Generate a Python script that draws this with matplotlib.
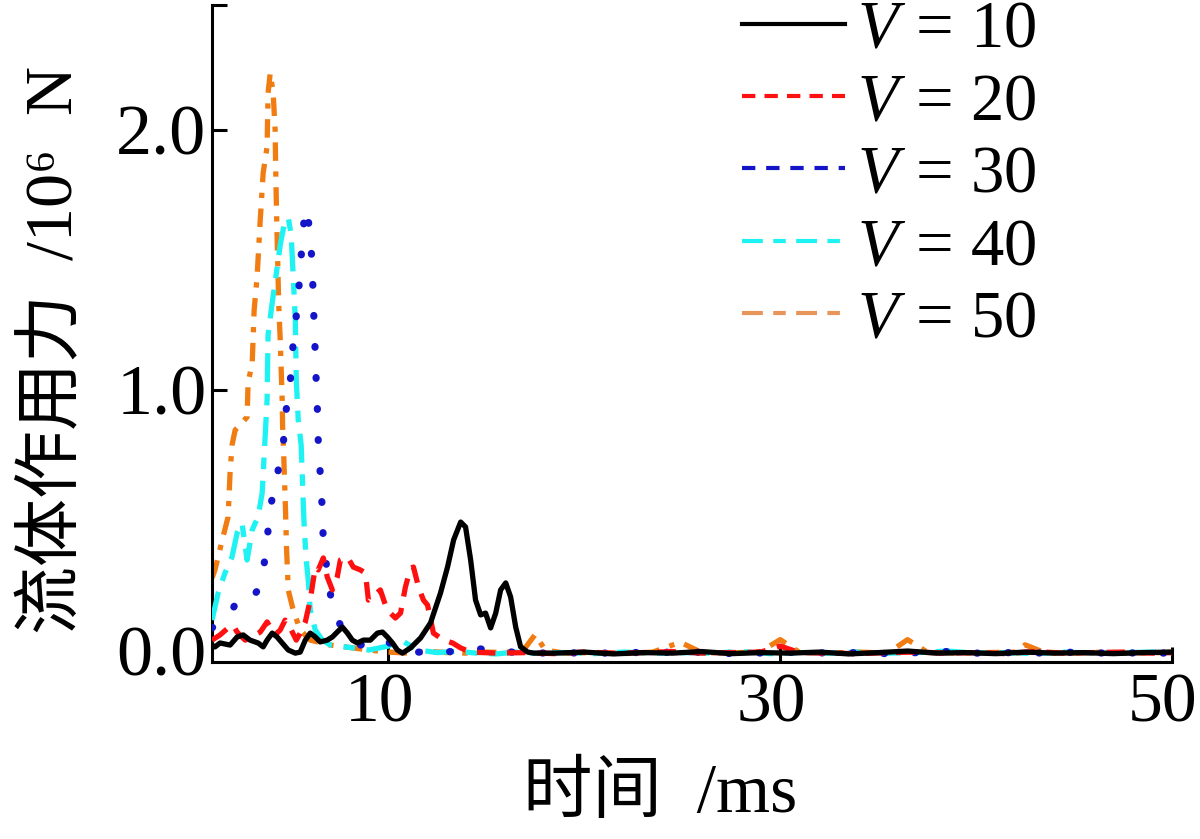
import numpy as np
import matplotlib
matplotlib.use("Agg")
import matplotlib.pyplot as plt
import matplotlib.transforms as mtransforms
from matplotlib.lines import Line2D

plt.rcParams['mathtext.fontset'] = 'custom'
plt.rcParams['mathtext.rm'] = 'Liberation Serif'
plt.rcParams['mathtext.it'] = 'Liberation Serif:italic'
plt.rcParams['font.family'] = ['Liberation Serif', 'Noto Sans CJK SC', 'DejaVu Sans']

# ---------------- data (time in ms, force in 10^6 N) ----------------
labels = [r'$V\,=\,10$', r'$V\,=\,20$', r'$V\,=\,30$', r'$V\,=\,40$', r'$V\,=\,50$']

t_v10 = [1.00, 1.15, 1.41, 1.92, 2.28, 2.59, 2.94, 3.35, 3.61, 3.81, 4.07, 4.32, 4.58, 4.89, 5.25,
         5.50, 5.76, 6.01, 6.27, 6.52, 6.88, 7.14, 7.39, 7.65, 7.91, 8.16, 8.42, 8.72, 9.08, 9.44,
         9.70, 9.95, 10.21, 10.46, 10.72, 11.13, 11.64, 12.15, 12.66, 13.02, 13.33, 13.69, 13.94,
         14.20, 14.45, 14.71, 14.96, 15.22, 15.48, 15.73, 15.99, 16.24, 16.50, 16.75, 17.11, 17.42,
         18.5, 20, 21.5, 23, 24.5, 26, 27.5, 29, 30.5, 32, 33.5, 35, 36.5, 38, 39.5, 41, 42.5, 44,
         45.5, 47, 48.5, 50]
f_v10 = [0.019, 0.012, 0.027, 0.019, 0.050, 0.058, 0.038, 0.027, 0.012, 0.038, 0.065, 0.050, 0.027,
         0.000, -0.012, -0.008, 0.038, 0.065, 0.050, 0.031, 0.038, 0.050, 0.069, 0.088, 0.065, 0.038,
         0.027, 0.038, 0.038, 0.065, 0.069, 0.050, 0.027, 0.000, -0.012, 0.008, 0.046, 0.104, 0.219,
         0.319, 0.423, 0.492, 0.473, 0.346, 0.192, 0.135, 0.142, 0.085, 0.142, 0.231, 0.258, 0.204,
         0.088, 0.012, -0.008, -0.012,
         -0.012, -0.008, -0.015, -0.010, -0.012, -0.006, -0.014, -0.010, -0.012, -0.008, -0.015,
         -0.010, -0.004, -0.012, -0.010, -0.014, -0.008, -0.012, -0.010, -0.014, -0.010, -0.008]

t_v20 = [1.00, 1.41, 1.82, 2.07, 2.28, 2.69, 3.20, 3.46, 3.81, 4.22, 4.48, 4.73, 4.99, 5.30, 5.50,
         5.76, 6.01, 6.27, 6.42, 6.68, 6.88, 7.14, 7.39, 7.55, 7.91, 8.21, 8.57, 8.83, 8.98, 9.18,
         9.59, 9.85, 10.10, 10.36, 10.62, 10.87, 11.13, 11.28, 11.54, 11.79, 12.00, 12.30, 12.82,
         13.28, 13.69, 14.20,
         15.5, 17, 18.5, 20, 21.5, 23, 24.5, 26, 27.5, 29, 30, 31, 32.5, 34, 35.5, 37, 38.5, 40,
         41.5, 43, 44.5, 46, 47.5, 49, 50]
f_v20 = [0.038, 0.058, 0.085, 0.096, 0.069, 0.038, 0.058, 0.069, 0.108, 0.058, 0.077, 0.115, 0.085,
         0.038, 0.065, 0.108, 0.192, 0.319, 0.308, 0.354, 0.281, 0.231, 0.281, 0.346, 0.358, 0.319,
         0.308, 0.296, 0.192, 0.204, 0.231, 0.173, 0.142, 0.123, 0.142, 0.242, 0.315, 0.319, 0.242,
         0.192, 0.173, 0.065, 0.038, 0.027, 0.008, -0.008,
         -0.012, -0.010, -0.014, -0.008, -0.012, -0.010, -0.006, -0.012, -0.010, -0.008, 0.015,
         -0.010, -0.012, -0.014, -0.010, -0.008, -0.012, -0.010, -0.014, -0.006, -0.012, -0.010,
         -0.008, -0.012, -0.010]

t_v30 = [1.00, 1.31, 1.92, 2.33, 2.69, 3.05, 3.35, 3.61, 3.81, 3.97, 4.27, 4.63, 4.73, 4.99, 5.09,
         5.25, 5.35, 5.50, 5.60, 5.76, 5.91, 6.01, 6.12, 6.17, 6.24, 6.30, 6.37, 6.42, 6.52, 6.63,
         6.68, 6.93, 7.14, 7.55, 8.06, 8.57, 9.59,
         10.5, 11.5, 12.5, 13.5, 14.5, 15.5, 16.5, 17.5, 19, 20.5, 22, 23.5, 25, 26.5, 28, 29.5,
         31, 32.5, 34, 35.5, 37, 38.5, 40, 41.5, 43, 44.5, 46, 47.5, 49, 50]
f_v30 = [0.085, 0.104, 0.135, 0.200, 0.192, 0.204, 0.231, 0.300, 0.423, 0.546, 0.654, 0.781, 0.896,
         1.027, 1.142, 1.242, 1.327, 1.450, 1.577, 1.700, 1.654, 1.596, 1.469, 1.335, 1.200, 1.065,
         0.942, 0.808, 0.681, 0.538, 0.412, 0.277, 0.162, 0.096, 0.038, 0.019, 0.046,
         0.010, -0.008, -0.010, -0.004, 0.005, 0.000, -0.010, -0.012, -0.010, -0.014, -0.008,
         -0.012, -0.005, -0.012, -0.014, -0.010, -0.008, -0.012, -0.010, -0.014, -0.010, -0.006,
         -0.012, -0.010, -0.012, -0.008, -0.012, -0.010, -0.014, -0.010]

t_v40 = [1.00, 1.31, 1.66, 2.02, 2.28, 2.53, 2.79, 3.05, 3.35, 3.56, 3.66, 3.81, 3.86, 4.07, 4.27,
         4.48, 4.68, 4.89, 5.04, 5.14, 5.25, 5.30, 5.40, 5.55, 5.65, 5.71, 5.81, 5.91, 6.01, 6.27,
         6.63, 7.04,
         8, 9, 10, 10.6, 11.5, 12.5, 13.5, 14.5, 15.5, 16.5, 17.5, 19, 20.5, 22, 23.5, 25, 26.5,
         28, 29.5, 31, 32.5, 34, 35.5, 37, 38.5, 40, 41.5, 43, 44.5, 46, 47.5, 49, 50]
f_v40 = [0.115, 0.219, 0.296, 0.358, 0.450, 0.488, 0.346, 0.462, 0.512, 0.604, 0.750, 0.962, 1.212,
         1.335, 1.442, 1.558, 1.635, 1.662, 1.596, 1.442, 1.269, 1.038, 0.885, 0.788, 0.577, 0.462,
         0.346, 0.269, 0.154, 0.077, 0.038, 0.019,
         0.010, 0.000, 0.015, 0.040, 0.000, -0.010, -0.005, -0.012, -0.015, -0.008, -0.012, -0.010,
         -0.014, -0.008, -0.012, -0.010, -0.012, -0.006, -0.014, -0.010, -0.012, -0.008, -0.012,
         -0.010, -0.004, -0.012, -0.010, -0.014, -0.008, -0.012, -0.010, -0.008, -0.010]

t_v50 = [1.00, 1.15, 1.31, 1.56, 1.82, 1.92, 2.02, 2.18, 2.43, 2.79, 2.84, 3.05, 3.15, 3.30, 3.46,
         3.61, 3.81, 3.86, 3.97, 4.12, 4.22, 4.25, 4.30, 4.35, 4.40, 4.48, 4.53, 4.58, 4.60, 4.65,
         4.70, 4.75, 4.80, 4.89, 5.14, 5.50, 6.01, 7.04,
         8, 9, 10, 11, 12, 13, 14, 15, 16, 17, 17.5, 18, 19, 20.5, 22, 23.5, 24.9, 26, 27.5, 29,
         30, 31, 32.5, 34, 35.5, 36.5, 37.5, 39, 40.5, 42, 42.5, 43.5, 45, 46.5, 48, 49.5, 50]
f_v50 = [0.277, 0.308, 0.358, 0.435, 0.512, 0.681, 0.788, 0.846, 0.865, 0.896, 1.027, 1.104, 1.308,
         1.435, 1.654, 1.835, 1.935, 2.142, 2.219, 2.142, 2.000, 1.846, 1.654, 1.500, 1.335, 1.192,
         1.077, 0.962, 0.865, 0.769, 0.654, 0.538, 0.396, 0.231, 0.154, 0.077, 0.038, 0.019,
         0.010, 0.000, -0.008, -0.012, -0.005, -0.010, -0.012, -0.008, -0.010, 0.010, 0.060, 0.000,
         -0.012, -0.010, -0.014, -0.008, 0.030, -0.010, -0.012, -0.006, 0.040, -0.010, -0.012,
         -0.008, -0.012, 0.040, -0.008, -0.012, -0.010, -0.008, 0.020, -0.010, -0.012, -0.008,
         -0.012, -0.010, -0.008]

x_ticks = [10, 30, 50]
y_ticks = [0.0, 1.0, 2.0]
y_tick_labels = ['0.0', '1.0', '2.0']

# ---------------- figure ----------------
fig = plt.figure(figsize=(12, 8.39), dpi=100)
ax = fig.add_axes([0.1767, 0.211, 0.80, 0.783])

series = [
    (t_v10, f_v10, dict(color='black', lw=3.8, ls='-', zorder=6)),
    (t_v20, f_v20, dict(color='#ff1010', lw=3.8, ls=(0, (3.5, 2.2)), zorder=5)),
    (t_v30, f_v30, dict(color='#1414c8', lw=5.2, ls=(0, (0.1, 4.2)), dash_capstyle='round', zorder=4)),
    (t_v40, f_v40, dict(color='#1ff2f2', lw=3.8, ls=(0, (5.5, 2.2, 2.2, 2.2)), zorder=3)),
    (t_v50, f_v50, dict(color='#f07c12', lw=3.8, ls=(0, (3.5, 2, 1, 2)), zorder=2)),
]
for (t, f, kw), lab in zip(series, labels):
    ax.plot(t, f, label=lab, solid_capstyle='round', **kw)

ax.set_xlim(1, 50)
ax.set_ylim(-0.046, 2.48)
ax.set_xticks(x_ticks)
ax.set_yticks(y_ticks)
ax.set_yticklabels(y_tick_labels)
ax.set_yticks([2.48], minor=True)

for s in ['top', 'right']:
    ax.spines[s].set_visible(False)
for s in ['left', 'bottom']:
    ax.spines[s].set_linewidth(2.2)

ax.tick_params(axis='both', which='major', direction='in', length=11, width=2.2)
ax.tick_params(axis='y', which='major', pad=4, labelsize=52)
ax.tick_params(axis='x', which='major', pad=8, labelsize=50)
ax.tick_params(axis='y', which='minor', direction='in', length=11, width=2.2)
ax.tick_params(axis='x', which='minor', bottom=False)
ax.yaxis.get_major_ticks()[0].tick1line.set_visible(False)

# x tick labels sit slightly left of their ticks in the original
offset = mtransforms.ScaledTranslation(-9 / 100, 0, fig.dpi_scale_trans)
for lbl in ax.get_xticklabels():
    lbl.set_transform(lbl.get_transform() + offset)

# legend handles as drawn in the original legend
legend_handles = [
    Line2D([], [], color='black', lw=3.0, ls='-'),
    Line2D([], [], color='#ff1010', lw=3.0, ls=(0, (3.2, 2.2))),
    Line2D([], [], color='#1414c8', lw=3.0, ls=(0, (3.2, 2.6))),
    Line2D([], [], color='#1ff2f2', lw=3.0, ls=(0, (5.0, 2.5, 3.0, 2.5))),
    Line2D([], [], color='#e8955a', lw=3.0, ls=(0, (5.0, 2.5, 3.0, 2.5))),
]
leg = ax.legend(legend_handles, labels, loc='upper left', bbox_to_anchor=(742 / 1200, 1.0),
                bbox_transform=fig.transFigure, frameon=False, fontsize=48, handlelength=1.55,
                handletextpad=0.18, labelspacing=0.17, borderpad=0.0, borderaxespad=0.0)

fam = ['Liberation Serif', 'Noto Sans CJK SC', 'DejaVu Serif']
fig.text(55 / 1200, 1 - 350 / 839, '流体作用力  /10⁶  N', rotation=90, ha='center', va='center',
         fontsize=49, family=fam)
fig.text(660 / 1200, 1 - 795 / 839, '时间  /ms', ha='center', va='center',
         fontsize=50, family=fam)

fig.savefig('out.png', dpi=100)
